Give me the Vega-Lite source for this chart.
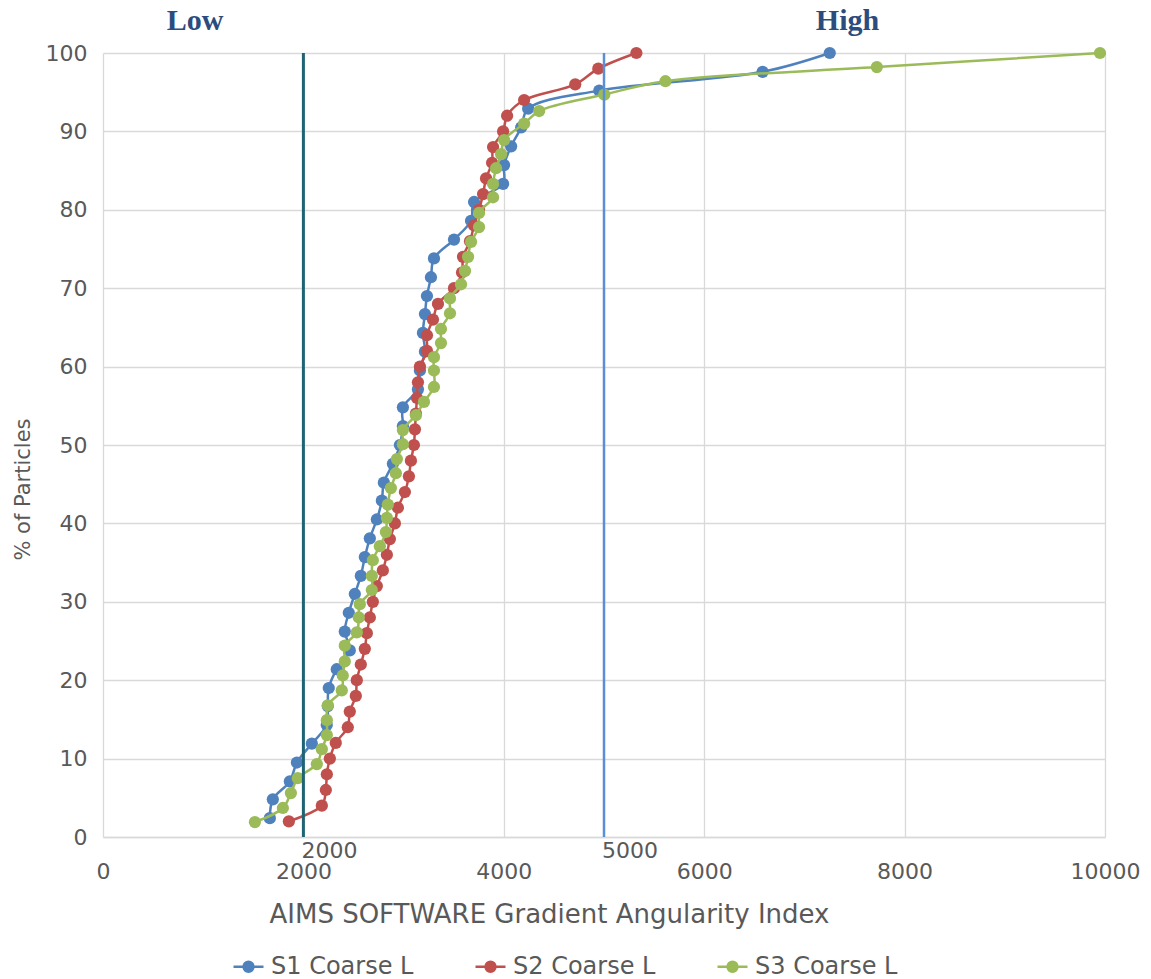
{
  "$schema": "https://vega.github.io/schema/vega-lite/v6.json",
  "width": 1002,
  "height": 784,
  "autosize": {"type": "none"},
  "padding": {"left": 103, "top": 53, "right": 46, "bottom": 142},
  "background": "white",
  "config": {"view": {"stroke": null}, "font": "DejaVu Sans"},
  "datasets": {
    "s1": [
      {"gai":1665,"pct":2.4},{"gai":1695,"pct":4.8},{"gai":1865,"pct":7.1},{"gai":1935,"pct":9.5},{"gai":2084,"pct":11.9},
      {"gai":2233,"pct":14.3},{"gai":2243,"pct":16.7},{"gai":2253,"pct":19.0},{"gai":2333,"pct":21.4},{"gai":2463,"pct":23.8},
      {"gai":2413,"pct":26.2},{"gai":2453,"pct":28.6},{"gai":2513,"pct":31.0},{"gai":2573,"pct":33.3},{"gai":2613,"pct":35.7},
      {"gai":2663,"pct":38.1},{"gai":2733,"pct":40.5},{"gai":2783,"pct":42.9},{"gai":2803,"pct":45.2},{"gai":2893,"pct":47.6},
      {"gai":2963,"pct":50.0},{"gai":2993,"pct":52.4},{"gai":2993,"pct":54.8},{"gai":3143,"pct":57.1},{"gai":3163,"pct":59.5},
      {"gai":3213,"pct":61.9},{"gai":3193,"pct":64.3},{"gai":3213,"pct":66.7},{"gai":3233,"pct":69.0},{"gai":3273,"pct":71.4},
      {"gai":3303,"pct":73.8},{"gai":3503,"pct":76.2},{"gai":3673,"pct":78.6},{"gai":3703,"pct":81.0},{"gai":3993,"pct":83.3},
      {"gai":4003,"pct":85.7},{"gai":4073,"pct":88.1},{"gai":4173,"pct":90.5},{"gai":4243,"pct":92.9},{"gai":4953,"pct":95.2},
      {"gai":6583,"pct":97.6},{"gai":7253,"pct":100}
    ],
    "s2": [
      {"gai":1855,"pct":2},{"gai":2184,"pct":4},{"gai":2224,"pct":6},{"gai":2234,"pct":8},{"gai":2264,"pct":10},
      {"gai":2323,"pct":12},{"gai":2443,"pct":14},{"gai":2463,"pct":16},{"gai":2523,"pct":18},{"gai":2533,"pct":20},
      {"gai":2573,"pct":22},{"gai":2613,"pct":24},{"gai":2633,"pct":26},{"gai":2663,"pct":28},{"gai":2693,"pct":30},
      {"gai":2733,"pct":32},{"gai":2793,"pct":34},{"gai":2833,"pct":36},{"gai":2863,"pct":38},{"gai":2913,"pct":40},
      {"gai":2943,"pct":42},{"gai":3013,"pct":44},{"gai":3053,"pct":46},{"gai":3073,"pct":48},{"gai":3103,"pct":50},
      {"gai":3113,"pct":52},{"gai":3123,"pct":54},{"gai":3133,"pct":56},{"gai":3143,"pct":58},{"gai":3163,"pct":60},
      {"gai":3233,"pct":62},{"gai":3233,"pct":64},{"gai":3293,"pct":66},{"gai":3343,"pct":68},{"gai":3503,"pct":70},
      {"gai":3583,"pct":72},{"gai":3593,"pct":74},{"gai":3663,"pct":76},{"gai":3703,"pct":78},{"gai":3753,"pct":80},
      {"gai":3793,"pct":82},{"gai":3823,"pct":84},{"gai":3883,"pct":86},{"gai":3893,"pct":88},{"gai":3993,"pct":90},
      {"gai":4033,"pct":92},{"gai":4203,"pct":94},{"gai":4713,"pct":96},{"gai":4943,"pct":98},{"gai":5323,"pct":100}
    ],
    "s3": [
      {"gai":1516,"pct":1.9},{"gai":1795,"pct":3.7},{"gai":1875,"pct":5.6},{"gai":1944,"pct":7.5},{"gai":2134,"pct":9.3},
      {"gai":2184,"pct":11.2},{"gai":2234,"pct":13.0},{"gai":2234,"pct":14.9},{"gai":2244,"pct":16.8},{"gai":2383,"pct":18.7},
      {"gai":2393,"pct":20.6},{"gai":2413,"pct":22.4},{"gai":2413,"pct":24.4},{"gai":2533,"pct":26.1},{"gai":2553,"pct":28.0},
      {"gai":2563,"pct":29.7},{"gai":2683,"pct":31.5},{"gai":2683,"pct":33.3},{"gai":2693,"pct":35.3},{"gai":2763,"pct":37.1},
      {"gai":2823,"pct":38.9},{"gai":2833,"pct":40.7},{"gai":2843,"pct":42.4},{"gai":2873,"pct":44.5},{"gai":2923,"pct":46.4},
      {"gai":2933,"pct":48.2},{"gai":2993,"pct":50.1},{"gai":2993,"pct":51.9},{"gai":3123,"pct":53.8},{"gai":3203,"pct":55.5},
      {"gai":3303,"pct":57.4},{"gai":3303,"pct":59.5},{"gai":3303,"pct":61.2},{"gai":3373,"pct":63.0},{"gai":3373,"pct":64.8},
      {"gai":3463,"pct":66.8},{"gai":3463,"pct":68.7},{"gai":3573,"pct":70.5},{"gai":3613,"pct":72.2},{"gai":3643,"pct":74.0},
      {"gai":3673,"pct":75.9},{"gai":3753,"pct":77.8},{"gai":3753,"pct":79.6},{"gai":3893,"pct":81.6},{"gai":3893,"pct":83.3},
      {"gai":3923,"pct":85.3},{"gai":3973,"pct":87.1},{"gai":4003,"pct":88.9},{"gai":4203,"pct":91.0},{"gai":4353,"pct":92.6},
      {"gai":5003,"pct":94.7},{"gai":5613,"pct":96.4},{"gai":7723,"pct":98.2},{"gai":9950,"pct":100}
    ],
    "thresholds": [
      {"label":"Low","gai":2000},
      {"label":"High","gai":5000}
    ]
  },
  "layer": [
    {
      "data": {"name": "s1"},
      "transform": [{"calculate": "'S1 Coarse L'", "as": "series"}],
      "layer": [
        {"mark": {"type": "line", "interpolate": "catmull-rom", "strokeWidth": 2.5}},
        {"mark": {"type": "point", "filled": true, "size": 150, "opacity": 1}}
      ],
      "encoding": {
        "x": {"field": "gai", "type": "quantitative"},
        "y": {"field": "pct", "type": "quantitative"},
        "order": {"field": "pct"},
        "color": {"field": "series", "type": "nominal"}
      }
    },
    {
      "data": {"name": "s2"},
      "transform": [{"calculate": "'S2 Coarse L'", "as": "series"}],
      "layer": [
        {"mark": {"type": "line", "interpolate": "catmull-rom", "strokeWidth": 2.5}},
        {"mark": {"type": "point", "filled": true, "size": 150, "opacity": 1}}
      ],
      "encoding": {
        "x": {"field": "gai", "type": "quantitative"},
        "y": {"field": "pct", "type": "quantitative"},
        "order": {"field": "pct"},
        "color": {"field": "series", "type": "nominal"}
      }
    },
    {
      "data": {"name": "s3"},
      "transform": [{"calculate": "'S3 Coarse L'", "as": "series"}],
      "layer": [
        {"mark": {"type": "line", "interpolate": "catmull-rom", "strokeWidth": 2.5}},
        {"mark": {"type": "point", "filled": true, "size": 150, "opacity": 1}}
      ],
      "encoding": {
        "x": {"field": "gai", "type": "quantitative"},
        "y": {"field": "pct", "type": "quantitative"},
        "order": {"field": "pct"},
        "color": {"field": "series", "type": "nominal"}
      }
    },
    {
      "data": {"name": "thresholds"},
      "transform": [{"filter": "datum.label === 'Low'"}],
      "mark": {"type": "rule", "color": "#1F6473", "strokeWidth": 3},
      "encoding": {"x": {"field": "gai", "type": "quantitative"}}
    },
    {
      "data": {"name": "thresholds"},
      "transform": [{"filter": "datum.label === 'High'"}],
      "mark": {"type": "rule", "color": "#5B8ED6", "strokeWidth": 2.5},
      "encoding": {"x": {"field": "gai", "type": "quantitative"}}
    },
    {
      "data": {"name": "thresholds"},
      "mark": {"type": "text", "align": "left", "baseline": "middle", "dx": -2, "dy": 14, "fontSize": 22, "color": "#595959", "font": "DejaVu Sans"},
      "encoding": {
        "x": {"field": "gai", "type": "quantitative"},
        "y": {"datum": 0},
        "text": {"field": "gai", "type": "quantitative", "format": "d"}
      }
    },
    {
      "data": {"values": [{"t": "Low"}]},
      "mark": {"type": "text", "align": "center", "baseline": "middle", "fontSize": 30, "fontWeight": "bold", "font": "Liberation Serif", "color": "#2B4C7E"},
      "encoding": {"x": {"datum": 920}, "y": {"datum": 104.1}, "text": {"field": "t"}}
    },
    {
      "data": {"values": [{"t": "High"}]},
      "mark": {"type": "text", "align": "center", "baseline": "middle", "fontSize": 30, "fontWeight": "bold", "font": "Liberation Serif", "color": "#2B4C7E"},
      "encoding": {"x": {"datum": 7430}, "y": {"datum": 104.1}, "text": {"field": "t"}}
    }
  ],
  "resolve": {"scale": {"color": "shared"}},
  "encoding": {
    "x": {
      "type": "quantitative",
      "scale": {"domain": [0, 10000], "nice": false},
      "axis": {
        "values": [0, 2000, 4000, 6000, 8000, 10000],
        "format": "d",
        "grid": true, "gridColor": "#d9d9d9", "gridWidth": 1.3,
        "ticks": false, "domainColor": "#d9d9d9", "domainWidth": 1.3,
        "labelFontSize": 22, "labelColor": "#595959", "labelPadding": 24, "labelFlush": false, "labelFont": "DejaVu Sans",
        "title": "AIMS SOFTWARE Gradient Angularity Index",
        "titleFontSize": 26, "titleFontWeight": "normal", "titleColor": "#595959", "titleFont": "DejaVu Sans",
        "titlePadding": 19, "titleX": 446
      }
    },
    "y": {
      "type": "quantitative",
      "scale": {"domain": [0, 100], "nice": false},
      "axis": {
        "values": [0, 10, 20, 30, 40, 50, 60, 70, 80, 90, 100],
        "grid": true, "gridColor": "#d9d9d9", "gridWidth": 1.3,
        "ticks": false, "domain": false,
        "labelFontSize": 22, "labelColor": "#595959", "labelPadding": 16, "labelFont": "DejaVu Sans",
        "title": "% of Particles",
        "titleFontSize": 21, "titleFontWeight": "normal", "titleColor": "#595959", "titleFont": "DejaVu Sans",
        "titlePadding": 12, "titleY": 436
      }
    },
    "color": {
      "type": "nominal",
      "scale": {"domain": ["S1 Coarse L", "S2 Coarse L", "S3 Coarse L"], "range": ["#4F81BD", "#C0504D", "#9BBB59"]},
      "legend": {
        "title": null,
        "orient": "none",
        "legendX": 129,
        "legendY": 897,
        "direction": "horizontal",
        "symbolType": "M -1 0 L 1 0 M -0.33 0 A 0.33 0.33 0 1 1 0.33 0 A 0.33 0.33 0 1 1 -0.33 0 Z",
        "symbolSize": 900,
        "symbolStrokeWidth": 2.5,
        "labelFontSize": 24, "labelColor": "#595959", "labelFont": "DejaVu Sans", "labelOffset": 6,
        "columnPadding": 56,
        "encoding": {"symbols": {"update": {"fill": {"scale": "color", "field": "value"}, "stroke": {"scale": "color", "field": "value"}, "opacity": {"value": 1}}}}
      }
    }
  }
}
